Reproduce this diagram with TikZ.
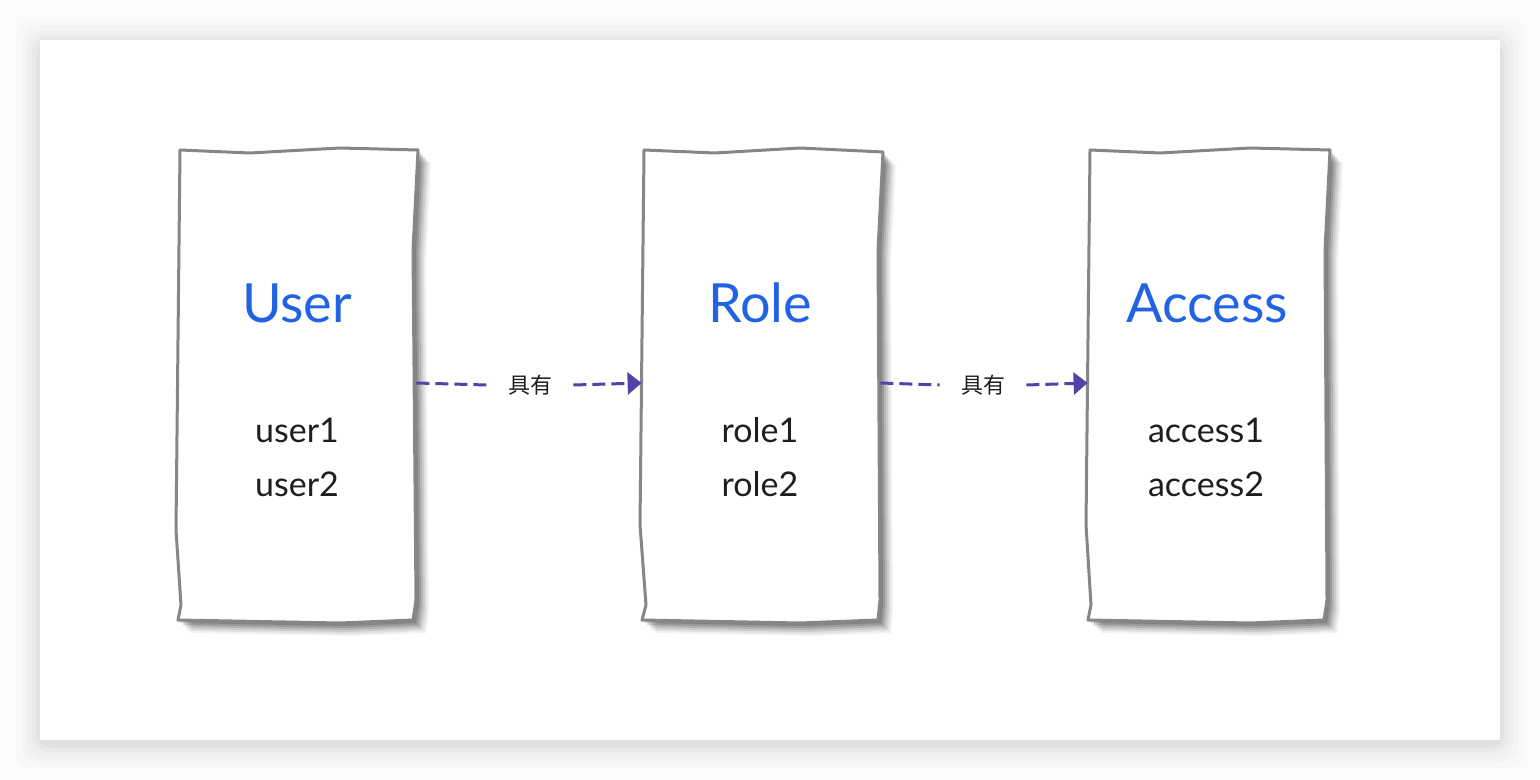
\documentclass[tikz,border=0pt]{standalone}
\usepackage{fontspec}
\setmainfont{Lato}
\newfontfamily\cjk{Noto Sans CJK SC}
\usetikzlibrary{arrows.meta}
\definecolor{titleblue}{RGB}{34,98,228}
\definecolor{itemink}{RGB}{30,30,30}
\definecolor{boxgray}{RGB}{134,134,134}
\definecolor{arrowviolet}{RGB}{82,66,170}
\definecolor{pagebg}{RGB}{251,251,251}
\tikzset{
  boxnode/.style={minimum width=119pt,minimum height=235.5pt,inner sep=0pt},
  outline/.style={draw=boxgray,line width=1.5pt,line join=round,fill=white},
  shadowlayer/.style={fill=black,draw=none},
  title/.style={text=titleblue,font=\fontsize{27}{30}\selectfont,inner sep=0pt},
  items/.style={text=itemink,font=\fontsize{17}{27}\selectfont,align=center,inner sep=0pt},
  rel/.style={text=itemink,font=\cjk\fontsize{11}{12}\selectfont,inner xsep=10.5pt,inner ysep=2pt},
  conn/.style={draw=arrowviolet,line width=1.5pt,dash pattern=on 6.5pt off 3pt},
  tip/.style={-{Triangle[length=7pt,width=11pt]}}
}
\newcommand{\softshadow}[1]{%
  \foreach \d/\o in {13/0.05,11/0.07,9/0.09,7/0.11,5/0.14,3/0.14}{%
    \fill[shadowlayer,opacity=\o,shift={(\d,\d)}] #1;}}
\begin{document}
\begin{tikzpicture}[x=0.5pt,y=-0.5pt]
\useasboundingbox (0,0) rectangle (1540,780);
\fill[pagebg] (0,0) rectangle (1540,780);
% card shadow
\foreach \e/\o in {24/0.012,18/0.015,13/0.02,8/0.025,4/0.03}{
  \fill[black,opacity=\o,rounded corners=8pt] (40-\e,44-\e) rectangle (1500+\e,744+\e);}
\fill[white] (40,40) rectangle (1500,740);

% box outlines (hand drawn)
\def\boxA{(180,150) -- (250,153) -- (340,148) -- (418,150) -- (413,250) -- (416,600) -- (413,620) -- (340,623) -- (178,620) -- (181,605) -- (176,530) -- cycle}
\def\boxB{(644,150) -- (715,153) -- (800,148) -- (883,152) -- (878,250) -- (880,600) -- (878,620) -- (800,623) -- (642,620) -- (646,605) -- (640,525) -- cycle}
\def\boxC{(1090,150) -- (1160,153) -- (1250,148) -- (1330,150) -- (1325,250) -- (1327,600) -- (1324,620) -- (1250,623) -- (1088,620) -- (1091,605) -- (1086,525) -- cycle}
\softshadow{\boxA}
\softshadow{\boxB}
\softshadow{\boxC}
\path[outline] \boxA;
\path[outline] \boxB;
\path[outline] \boxC;

% nodes
\node[boxnode] (user) at (297,383) {};
\node[boxnode] (role) at (761,383) {};
\node[boxnode] (access) at (1207,383) {};

\node[title] (tuser) at (297,303) {User};
\node[title] (trole) at (760,303) {Role};
\node[title] (taccess) at (1207,303) {Access};

\node[items] (iuser) at (297,457) {user1\\user2};
\node[items] (irole) at (760,457) {role1\\role2};
\node[items] (iaccess) at (1206,457) {access1\\access2};

\node[rel] (r1) at (530,385) {具有};
\node[rel] (r2) at (983,385) {具有};

\draw[conn] (user.east) -- (r1.west);
\draw[conn,tip] (r1.east) -- (role.west);
\draw[conn] (role.east) -- (r2.west);
\draw[conn,tip] (r2.east) -- (access.west);
\end{tikzpicture}
\end{document}
